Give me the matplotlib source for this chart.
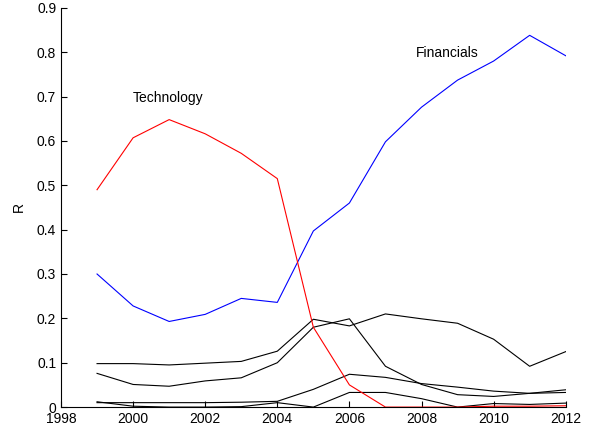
import matplotlib

matplotlib.use("Agg")

import matplotlib.pyplot as plt

plt.rcParams["font.family"] = ["Liberation Sans", "DejaVu Sans"]

years = list(range(1999, 2013))

financials = [0.300, 0.228, 0.193, 0.209, 0.245, 0.236, 0.397,
              0.460, 0.598, 0.676, 0.737, 0.780, 0.838, 0.792]
technology = [0.490, 0.607, 0.648, 0.616, 0.572, 0.515, 0.180,
              0.050, 0.000, 0.000, 0.000, 0.002, 0.002, 0.003]

# other sectors, all drawn in black
others = [
    [0.098, 0.098, 0.095, 0.099, 0.103, 0.126, 0.198,
     0.183, 0.210, 0.199, 0.189, 0.153, 0.092, 0.125],
    [0.076, 0.051, 0.047, 0.059, 0.066, 0.100, 0.180,
     0.199, 0.092, 0.051, 0.028, 0.024, 0.031, 0.033],
    [0.010, 0.010, 0.010, 0.010, 0.011, 0.013, 0.040,
     0.074, 0.067, 0.053, 0.045, 0.036, 0.031, 0.039],
    [0.012, 0.002, 0.000, 0.000, 0.001, 0.010, 0.000,
     0.033, 0.033, 0.019, 0.000, 0.008, 0.006, 0.009],
]

fig = plt.figure(figsize=(5.98, 4.34), dpi=100)
ax = fig.add_axes([0.102, 0.062, 0.844, 0.92])

for series in others:
    ax.plot(years, series, color="black", linewidth=0.8)
ax.plot(years, financials, color="#0000ff", linewidth=0.8)
ax.plot(years, technology, color="#ff0000", linewidth=0.8)

ax.text(2000.0, 0.697, "Technology", fontsize=10, va="center", ha="left")
ax.text(2007.85, 0.798, "Financials", fontsize=10, va="center", ha="left")

ax.set_xlim(1998, 2012)
ax.set_ylim(0, 0.9)
ax.set_xticks(range(1998, 2013, 2))
ax.set_yticks([i / 10 for i in range(10)])
ax.set_yticklabels(["0"] + [f"{i / 10:.1f}" for i in range(1, 10)])
ax.set_ylabel("R", fontsize=10, labelpad=8)

ax.spines["top"].set_visible(False)
ax.spines["right"].set_visible(False)
ax.tick_params(direction="in", length=4, labelsize=10, width=0.8)

fig.savefig("out.png", dpi=100)
